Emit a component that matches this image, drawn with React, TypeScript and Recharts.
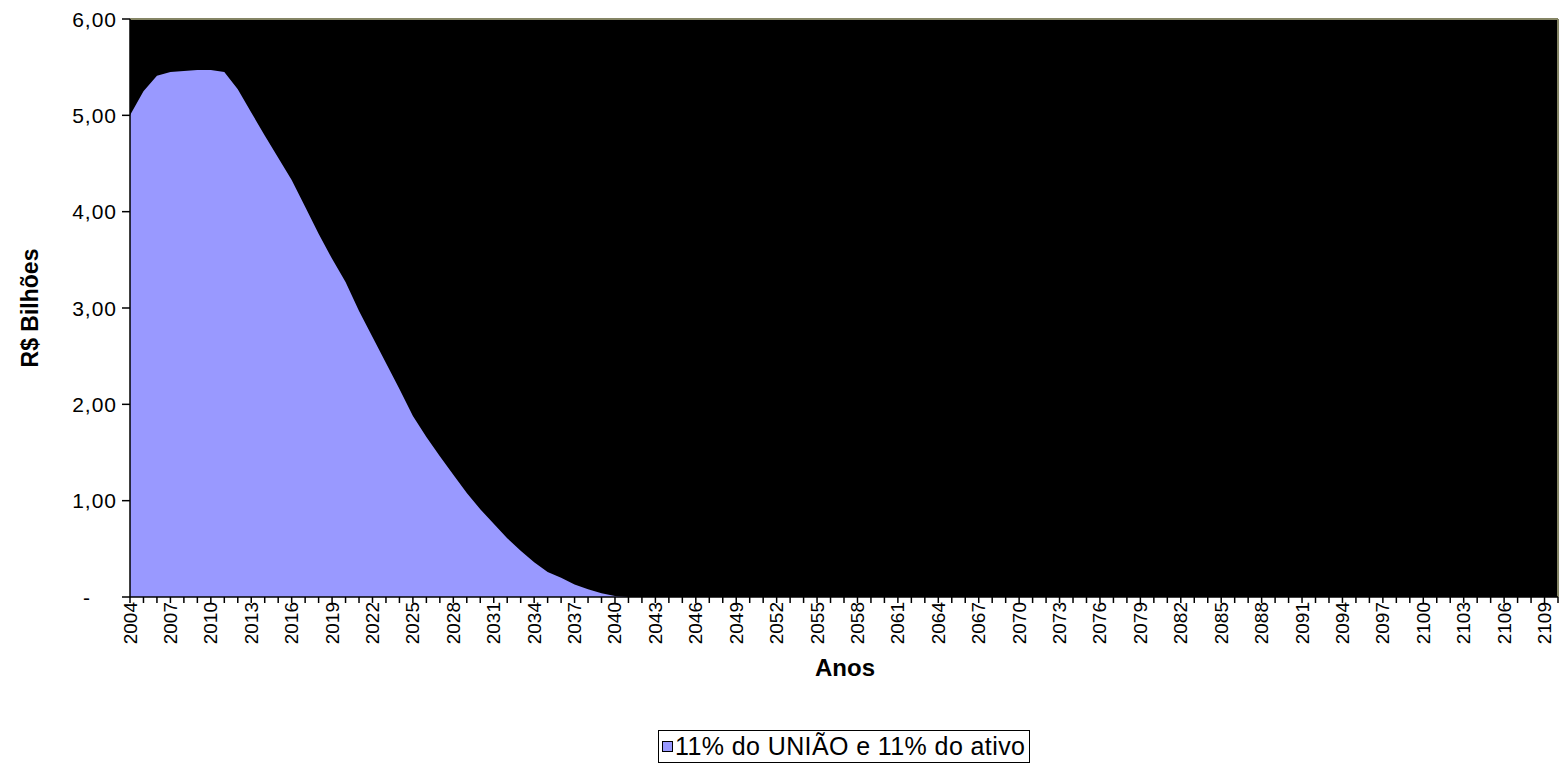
import React from 'react';
import { AreaChart, Area, XAxis, YAxis, CartesianGrid, ReferenceLine, Legend, Label } from 'recharts';

const years: string[] = Array.from({ length: 107 }, (_, i) => String(2004 + i));

const values: number[] = [
  5.0, 5.25, 5.41, 5.45, 5.46, 5.47, 5.47, 5.45, 5.27, 5.03,
  4.79, 4.56, 4.33, 4.05, 3.77, 3.51, 3.27, 2.97, 2.7, 2.43,
  2.16, 1.88, 1.66, 1.46, 1.27, 1.08, 0.91, 0.76, 0.61, 0.48,
  0.36, 0.26, 0.2, 0.13, 0.08, 0.04, 0.01,
  0, 0, 0, 0, 0, 0, 0, 0, 0, 0,
  0, 0, 0, 0, 0, 0, 0, 0, 0, 0,
  0, 0, 0, 0, 0, 0, 0, 0, 0, 0,
  0, 0, 0, 0, 0, 0, 0, 0, 0, 0,
  0, 0, 0, 0, 0, 0, 0, 0, 0, 0,
  0, 0, 0, 0, 0, 0, 0, 0, 0, 0,
  0, 0, 0, 0, 0, 0, 0, 0, 0, 0,
];

const yTicks: number[] = [0, 1, 2, 3, 4, 5, 6];
const seriesName = '11% do UNIÃO e 11% do ativo';

const data = years.map((y, i) => ({ year: y, value: values[i] }));

const FONT = '"Liberation Sans", Arial, sans-serif';

const XTick = (props: any) => {
  const { x, y, index, payload } = props;
  const show = index % 3 === 0;
  return (
    <g>
      <line x1={x} y1={y} x2={x} y2={y + 6} stroke="#000" strokeWidth={1.5} />
      {show && (
        <text
          x={x}
          y={y + 5}
          transform={`rotate(-90 ${x} ${y + 5})`}
          textAnchor="end"
          dominantBaseline="central"
          fontFamily={FONT}
          fontSize={19}
          fill="#000"
        >
          {payload.value}
        </text>
      )}
    </g>
  );
};

const YTick = (props: any) => {
  const { x, y, payload } = props;
  const v = payload.value as number;
  const label = v === 0 ? '-' : v.toFixed(2).replace('.', ',');
  const tx = v === 0 ? x - 26 : x;
  return (
    <text x={tx} y={y} textAnchor="end" dominantBaseline="central" fontFamily={FONT} fontSize={21} letterSpacing={1} fill="#000">
      {label}
    </text>
  );
};

const LegendContent = () => (
  <div
    style={{
      border: '1px solid #000',
      background: '#fff',
      display: 'flex',
      alignItems: 'center',
      padding: '0 4px 0 3px',
      fontFamily: FONT,
      fontSize: 25,
      letterSpacing: 0.4,
      color: '#000',
      whiteSpace: 'nowrap',
      boxSizing: 'border-box',
      height: 33,
      width: 372,
    }}
  >
    <span
      style={{
        display: 'inline-block',
        width: 9,
        height: 9,
        background: '#9999FF',
        border: '1.5px solid #000',
        marginRight: 2,
        flex: 'none',
      }}
    />
    <span>{seriesName}</span>
  </div>
);

export default function App() {
  return (
    <div style={{ position: 'absolute', left: 0, top: 0, width: 1562, height: 768, background: '#fff' }}>
      <AreaChart
        width={1562}
        height={768}
        data={data}
        margin={{ top: 19, right: 4, left: 0, bottom: 0 }}
      >
        <CartesianGrid fill="#000" fillOpacity={1} horizontal={false} vertical={false} />
        <XAxis
          dataKey="year"
          height={171}
          interval={0}
          tickLine={false}
          tickSize={0}
          tickMargin={0}
          axisLine={{ stroke: '#000', strokeWidth: 1.5 }}
          tick={<XTick />}
        >
          <Label
            content={() => (
              <text x={845} y={667} textAnchor="middle" dominantBaseline="central" fontFamily={FONT} fontSize={24} fontWeight="bold" fill="#000">
                Anos
              </text>
            )}
          />
        </XAxis>
        <YAxis
          width={130}
          domain={[0, 6]}
          ticks={yTicks}
          interval={0}
          tickSize={8}
          tickMargin={5}
          tickLine={{ stroke: '#000', strokeWidth: 1.5 }}
          axisLine={{ stroke: '#000', strokeWidth: 1.5 }}
          tick={<YTick />}
        >
          <Label
            content={() => (
              <text x={30} y={308} transform="rotate(-90 30 308)" textAnchor="middle" dominantBaseline="central" fontFamily={FONT} fontSize={23} fontWeight="bold" fill="#000">
                R$ Bilhões
              </text>
            )}
          />
        </YAxis>
        <ReferenceLine y={6} stroke="#858565" strokeWidth={2} />
        <ReferenceLine x="2110" stroke="#858565" strokeWidth={2} />
        <Area
          type="linear"
          dataKey="value"
          name={seriesName}
          fill="#9999FF"
          fillOpacity={1}
          stroke="none"
          isAnimationActive={false}
        />
        <Legend
          layout="vertical"
          align="center"
          verticalAlign="middle"
          content={<LegendContent />}
          wrapperStyle={{ position: 'absolute', left: 658, top: 730, width: 'auto', height: 'auto' }}
        />
      </AreaChart>
    </div>
  );
}
